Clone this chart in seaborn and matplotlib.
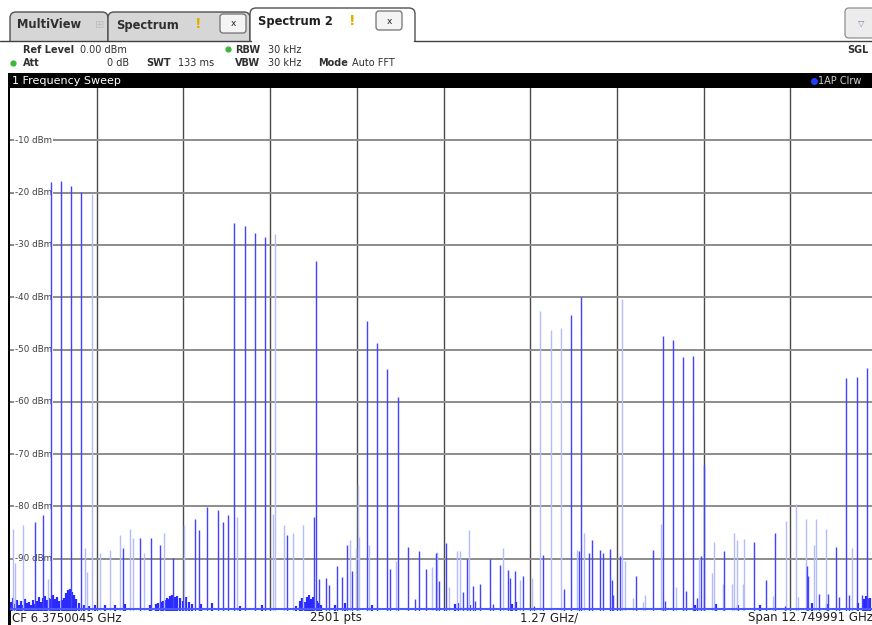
import numpy as np
import matplotlib.pyplot as plt
import matplotlib.patches as mpatches
import pandas as pd
import seaborn as sns

sns.set_theme(style="white")
plt.rcParams['font.family'] = ['DejaVu Sans']

# analyzer settings
f_start = 0.0
f_stop = 12.749991
ref_level = 0.0
y_bottom = -100.0
floor_db = -99.6
grid_db = [-10, -20, -30, -40, -50, -60, -70, -80, -90]
grid_labels = ["-10 dBm", "-20 dBm", "-30 dBm", "-40 dBm", "-50 dBm",
               "-60 dBm", "-70 dBm", "-80 dBm", "-90 dBm"]

# spurs drawn strong (GHz, dBm)
strong_f = [0.60, 0.75, 0.90, 1.05, 3.30, 3.45, 3.60, 3.75, 4.50,
            5.25, 5.40, 5.55, 5.70, 8.25, 8.40, 9.60, 9.75, 9.90, 10.05,
            12.30, 12.45, 12.60,
            0.363, 0.490, 1.662, 1.912, 2.069, 2.206, 2.397, 2.721, 2.779,
            2.897, 3.059, 3.132, 3.206, 4.074, 4.471, 4.809, 4.956, 5.588,
            5.853, 6.015, 6.118, 6.265, 6.309, 6.412, 6.809, 6.912, 7.059,
            7.206, 7.353, 7.838, 8.368, 8.515, 8.559, 8.676, 8.721, 8.824,
            8.853, 8.971, 9.206, 9.456, 10.162, 10.206, 10.500, 10.941,
            11.118, 11.250, 11.721, 11.736, 11.897, 12.029, 12.147, 12.191,
            12.338, 12.529, 12.618, 7.427, 5.956, 5.029, 4.882, 4.647,
            4.544, 4.691, 6.662, 6.721, 6.838, 7.103, 7.324, 7.544, 7.706,
            8.147, 8.868, 9.632, 9.941, 10.103, 11.397]
strong_db = [-18.0, -17.8, -18.8, -19.8, -25.9, -26.4, -27.8, -28.4, -33.0,
             -44.5, -48.7, -53.8, -59.0, -43.4, -40.0, -47.4, -48.1, -51.4, -51.2,
             -55.4, -55.2, -53.6,
             -83.0, -81.6, -88.0, -86.0, -86.0, -87.4, -89.8, -82.4, -84.6,
             -80.2, -80.7, -83.0, -81.7, -85.5, -82.0, -91.4, -87.4, -92.0,
             -87.8, -88.6, -92.0, -89.0, -94.3, -87.0, -95.3, -94.9, -90.0,
             -91.3, -93.6, -89.3, -88.6, -88.9, -86.4, -88.4, -89.0, -88.1,
             -94.0, -89.4, -93.3, -88.3, -89.4, -72.0, -88.6, -86.9,
             -94.1, -85.0, -91.4, -93.3, -96.8, -96.8, -87.8, -97.4,
             -97.0, -96.9, -97.6, -92.4, -97.7, -92.4, -93.5, -93.6,
             -93.8, -95.0, -96.4, -90.0, -98.0, -98.6, -92.2, -93.3, -99.0,
             -95.8, -97.0, -98.0, -96.1, -97.6, -99.0]

# spurs drawn faint (GHz, dBm)
faint_f = [1.20, 3.90, 7.80, 7.95, 8.10, 9.00,
           0.049, 0.187, 0.074, 0.554, 1.103, 1.137, 1.324, 1.471, 1.618,
           1.765, 1.809, 1.971, 2.265, 2.559, 3.338, 3.868, 4.029, 4.162,
           4.309, 5.000, 5.088, 5.118, 5.132, 5.279, 5.676, 6.206, 6.279,
           6.456, 6.574, 6.618, 6.750, 7.250, 7.500, 7.676, 8.338, 8.441,
           9.044, 9.162, 9.309, 9.338, 9.574, 9.794, 10.132, 10.324, 10.353,
           10.485, 10.618, 10.647, 10.691, 10.779, 10.794, 11.221, 11.412,
           11.559, 11.588, 11.706, 11.824, 11.853, 12.000, 12.382]
faint_db = [-20.3, -28.0, -42.7, -46.2, -45.8, -40.3,
            -84.4, -83.6, -90.8, -93.8, -88.0, -92.5, -89.0, -88.3, -85.5,
            -84.3, -86.0, -89.0, -85.0, -83.6, -82.0, -81.4, -83.6, -85.0,
            -83.6, -86.4, -88.0, -76.0, -85.8, -87.4, -90.5, -91.6, -88.8,
            -95.5, -88.6, -88.6, -84.6, -88.0, -94.0, -93.6, -88.3, -85.0,
            -90.4, -97.6, -98.2, -97.0, -83.3, -95.5, -89.9, -92.7, -86.9,
            -94.9, -94.9, -85.0, -86.4, -94.9, -86.3, -97.2, -82.8,
            -79.6, -97.4, -82.4, -87.4, -82.4, -84.3, -88.0]

# noise floor bumps (GHz, dBm)
noise_f = [0.015, 0.044, 0.074, 0.103, 0.132, 0.162, 0.191, 0.221, 0.250,
           0.279, 0.309, 0.338, 0.368, 0.397, 0.426, 0.456, 0.485, 0.515,
           0.544, 0.574, 0.603, 0.632, 0.662, 0.691, 0.721, 0.765, 0.794,
           0.824, 0.853, 0.882, 0.912, 0.941, 0.971, 1.015, 1.088, 1.162,
           1.250, 1.397, 1.544, 1.691, 2.059, 2.147, 2.176, 2.221, 2.250,
           2.279, 2.309, 2.338, 2.353, 2.382, 2.426, 2.456, 2.500, 2.544,
           2.588, 2.632, 2.676, 2.809, 2.971, 3.382, 3.706,
           4.206, 4.265, 4.294, 4.338, 4.368, 4.397, 4.426, 4.456, 4.515,
           4.529, 4.574, 4.779, 4.926, 5.324, 6.544, 6.588, 6.765, 7.382,
           7.441, 10.074, 10.382, 10.706, 11.029, 11.794, 12.015, 12.471,
           12.559, 12.588, 12.647]
noise_db = [-98.2, -97.6, -98.6, -97.9, -98.8, -98.1, -98.9, -97.8, -98.5,
            -98.2, -98.9, -97.9, -98.6, -98.0, -97.4, -98.3, -97.6, -97.2,
            -97.9, -97.5, -97.8, -97.0, -97.8, -97.3, -98.1, -97.9, -97.6,
            -96.6, -96.0, -95.8, -96.4, -96.9, -97.7, -98.4, -98.9, -99.0,
            -98.9, -98.8, -98.9, -98.7, -98.9, -98.7, -98.5, -98.3, -98.0,
            -97.9, -97.6, -97.8, -97.2, -96.9, -97.4, -97.1, -97.6, -98.0,
            -97.4, -98.2, -98.6, -98.7, -98.5, -99.0, -98.8,
            -99.0, -98.0, -97.6, -98.2, -97.4, -97.0, -97.8, -97.3, -98.0,
            -98.5, -98.9, -98.8, -98.5, -98.9, -98.7, -98.4, -98.8, -98.6,
            -98.3, -98.8, -98.6, -98.8, -98.9, -98.5, -98.6, -98.4,
            -97.8, -97.2, -97.5]

strong = pd.DataFrame({"f": strong_f, "db": strong_db})
faint = pd.DataFrame({"f": faint_f, "db": faint_db})
noise = pd.DataFrame({"f": noise_f, "db": noise_db})

W, H = 872, 625
fig = plt.figure(figsize=(W / 100, H / 100), dpi=100)
fig.patch.set_facecolor("white")

# ---- UI frame drawn in pixel coordinates ----
ui = fig.add_axes([0, 0, 1, 1], zorder=0)
ui.set_xlim(0, W)
ui.set_ylim(H, 0)
ui.axis("off")

def tab(x0, x1, y0, y1, fc, z=1):
    p = mpatches.FancyBboxPatch((x0, y0), x1 - x0, y1 - y0,
                                boxstyle="round,pad=0,rounding_size=6",
                                fc=fc, ec="#505050", lw=1.0, zorder=z)
    ui.add_patch(p)

tab(10, 108, 12, 52, "#d6d6d6")
tab(108, 250, 12, 52, "#d6d6d6")
tab(250, 415, 8, 52, "white", z=2)
ui.add_patch(mpatches.Rectangle((0, 41), W, 40, fc="white", ec="none", zorder=3))
ui.plot([0, 251], [41, 41], color="#404040", lw=1.0, zorder=4)
ui.plot([414, W], [41, 41], color="#404040", lw=1.0, zorder=4)

# close buttons
for bx, by in ((220, 14), (376, 11)):
    p = mpatches.FancyBboxPatch((bx, by), 26, 19,
                                boxstyle="round,pad=0,rounding_size=3",
                                fc="#f4f4f4", ec="#707070", lw=0.9, zorder=5)
    ui.add_patch(p)
    ui.text(bx + 13, by + 10, "x", ha="center", va="center",
            fontsize=6.5, color="#202020", zorder=6)
p = mpatches.FancyBboxPatch((845, 8), 32, 30, boxstyle="round,pad=0,rounding_size=4",
                            fc="#ececec", ec="#909090", lw=0.9, zorder=5)
ui.add_patch(p)
ui.text(861, 23, "\u25bd", ha="center", va="center", fontsize=6, color="#8080a0", zorder=6)

ui.text(17, 25, "MultiView", fontsize=8.3, fontweight="bold", va="center", color="#303030", zorder=6)
ui.text(100, 25, "\u229e", fontsize=8, va="center", ha="center", color="#c0c0c0", zorder=6)
ui.text(116, 25, "Spectrum", fontsize=8.3, fontweight="bold", va="center", color="#303030", zorder=6)
ui.text(198, 24, "!", fontsize=10, fontweight="bold", va="center", ha="center", color="#e0b000", zorder=6)
ui.text(258, 21, "Spectrum 2", fontsize=8.3, fontweight="bold", va="center", color="#202020", zorder=6)
ui.text(352, 21, "!", fontsize=10, fontweight="bold", va="center", ha="center", color="#e0b000", zorder=6)

# header settings
hdr = dict(fontsize=7, va="center", color="#303030", zorder=6)
ui.text(23, 50, "Ref Level", fontweight="bold", **hdr)
ui.text(80, 50, "0.00 dBm", **hdr)
ui.plot(228, 49, "o", ms=3.5, color="#3cb83c", zorder=6)
ui.text(235, 50, "RBW", fontweight="bold", **hdr)
ui.text(268, 50, "30 kHz", **hdr)
ui.plot(13, 63, "o", ms=3.5, color="#3cb83c", zorder=6)
ui.text(23, 63, "Att", fontweight="bold", **hdr)
ui.text(129, 63, "0 dB", ha="right", **hdr)
ui.text(146, 63, "SWT", fontweight="bold", **hdr)
ui.text(178, 63, "133 ms", **hdr)
ui.text(235, 63, "VBW", fontweight="bold", **hdr)
ui.text(268, 63, "30 kHz", **hdr)
ui.text(318, 63, "Mode", fontweight="bold", **hdr)
ui.text(352, 63, "Auto FFT", **hdr)
ui.text(869, 50, "SGL", fontweight="bold", ha="right", **hdr)

# title bar
ui.add_patch(mpatches.Rectangle((8, 73), W, 15, fc="black", ec="none", zorder=6))
ui.text(12, 80.5, "1 Frequency Sweep", fontsize=8, color="white", va="center", zorder=7)
ui.plot(814, 80.5, "o", ms=4, color="#2040ff", zorder=7)
ui.text(818, 80.5, "1AP Clrw", fontsize=7, color="#d0d0d0", va="center", zorder=7)

# left border
ui.add_patch(mpatches.Rectangle((7.5, 73), 3, H - 73, fc="black", ec="none", zorder=7))

# footer
ft = dict(fontsize=8.5, va="center", color="#202020", zorder=6)
ui.text(12, 618, "CF 6.3750045 GHz", **ft)
ui.text(310, 618, "2501 pts", **ft)
ui.text(520, 618, "1.27 GHz/", **ft)
ui.text(873, 618, "Span 12.749991 GHz", ha="right", **ft)

# ---- spectrum plot ----
ax = fig.add_axes([10 / W, 14 / H, 867 / W, 523 / H], zorder=1)
ax.set_xlim(f_start, f_stop)
ax.set_ylim(y_bottom, ref_level)
for s in ax.spines.values():
    s.set_visible(False)
ax.set_xticks([])
ax.set_yticks([])
ax.set_facecolor("white")

span = f_stop - f_start
for k in range(1, 10):
    ax.axvline(f_start + k * span / 10, color="#4a4a4a", lw=1.0, zorder=0)
for lv, lab in zip(grid_db, grid_labels):
    ax.axhline(lv, color="#8c8c8c", lw=1.4, zorder=0)
    ax.text(0.006, lv, lab, transform=ax.get_yaxis_transform(), fontsize=6.3,
            color="#404040", va="center", ha="left", zorder=1,
            bbox=dict(fc="white", ec="none", pad=0.6))

ax.vlines(noise["f"], y_bottom, noise["db"], color="#2a2aff", lw=1.6, zorder=2)
ax.vlines(faint["f"], y_bottom, faint["db"], color="#b4bbff", lw=1.0, zorder=2)
ax.vlines(strong["f"], y_bottom, strong["db"], color="#4242ff", lw=1.0, zorder=3)
ax.axhline(floor_db, color="#4a5cff", lw=1.5, zorder=3)

fig.savefig("out.png", dpi=100)
